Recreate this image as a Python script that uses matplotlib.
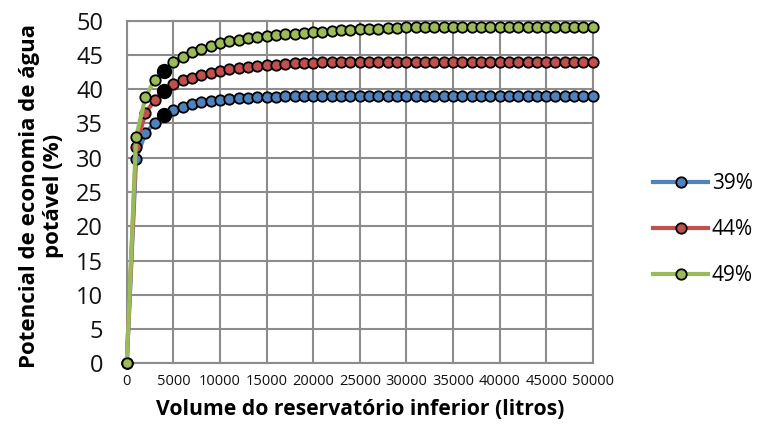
import matplotlib.pyplot as plt
import numpy as np

plt.rcParams['font.family'] = ['Open Sans', 'DejaVu Sans']

volume = list(range(0, 51000, 1000))

# one value per 1000 litres
s39 = [0, 29.8, 33.6, 35.1, 36.2, 36.9, 37.4, 37.8, 38.1, 38.25, 38.4, 38.5,
       38.65, 38.75, 38.8, 38.85, 38.9, 38.95, 38.95, 39.0] + [39.0] * 31
s44 = [0, 31.6, 36.5, 38.4, 39.7, 40.8, 41.3, 41.7, 42.0, 42.4, 42.6, 42.9,
       43.1, 43.25, 43.4, 43.5, 43.6, 43.7, 43.75, 43.8, 43.85, 43.9, 43.9,
       43.95, 43.95] + [44.0] * 26
s49 = [0, 33.0, 38.8, 41.4, 42.7, 43.9, 44.7, 45.4, 45.9, 46.3, 46.7, 47.0,
       47.2, 47.4, 47.6, 47.8, 47.9, 48.0, 48.1, 48.2, 48.3, 48.4, 48.5, 48.6,
       48.7, 48.75, 48.8, 48.85, 48.9, 48.95] + [49.0] * 21
labels = ['39%', '44%', '49%']
colors = ['#4F81BD', '#C0504D', '#9BBB59']
highlight_x = 4000

fig = plt.figure(figsize=(7.59, 4.30), dpi=100)
ax = fig.add_axes([0.167, 0.155, 0.614, 0.797])

for ys, lab, c in zip([s39, s44, s49], labels, colors):
    ax.plot(volume, ys, color=c, lw=3, marker='o', ms=7.5, mfc=c, mec='black',
            mew=1.3, label=lab, clip_on=False, zorder=3)
    i = volume.index(highlight_x)
    ax.plot([volume[i]], [ys[i]], 'o', color='black', ms=10, zorder=4)

ax.set_xlim(0, 50000)
ax.set_ylim(0, 50)
ax.set_xticks(np.arange(0, 50001, 5000))
ax.set_yticks(np.arange(0, 51, 5))
ax.grid(True, color='#8c8c8c', lw=1.5)
ax.set_axisbelow(True)
for sp in ax.spines.values():
    sp.set_color('#8c8c8c')
    sp.set_linewidth(1.5)
ax.tick_params(axis='x', labelsize=10.5, length=0, pad=8, labelcolor='#111111')
ax.tick_params(axis='y', labelsize=17, length=0, pad=17, labelcolor='#111111')

ax.set_xlabel('Volume do reservatório inferior (litros)', fontsize=15.2,
              fontweight='bold', labelpad=7)
fig.text(0.055, 0.545, 'Potencial de economia de água\npotável (%)', rotation=90,
         ha='center', va='center', fontsize=16, fontweight='bold',
         multialignment='center', linespacing=1.2)

ax.legend(loc='center left', bbox_to_anchor=(1.09, 0.39), frameon=False,
          fontsize=15, handlelength=2.6, labelspacing=1.2, handletextpad=0.2)

fig.savefig('out.png', dpi=100)
